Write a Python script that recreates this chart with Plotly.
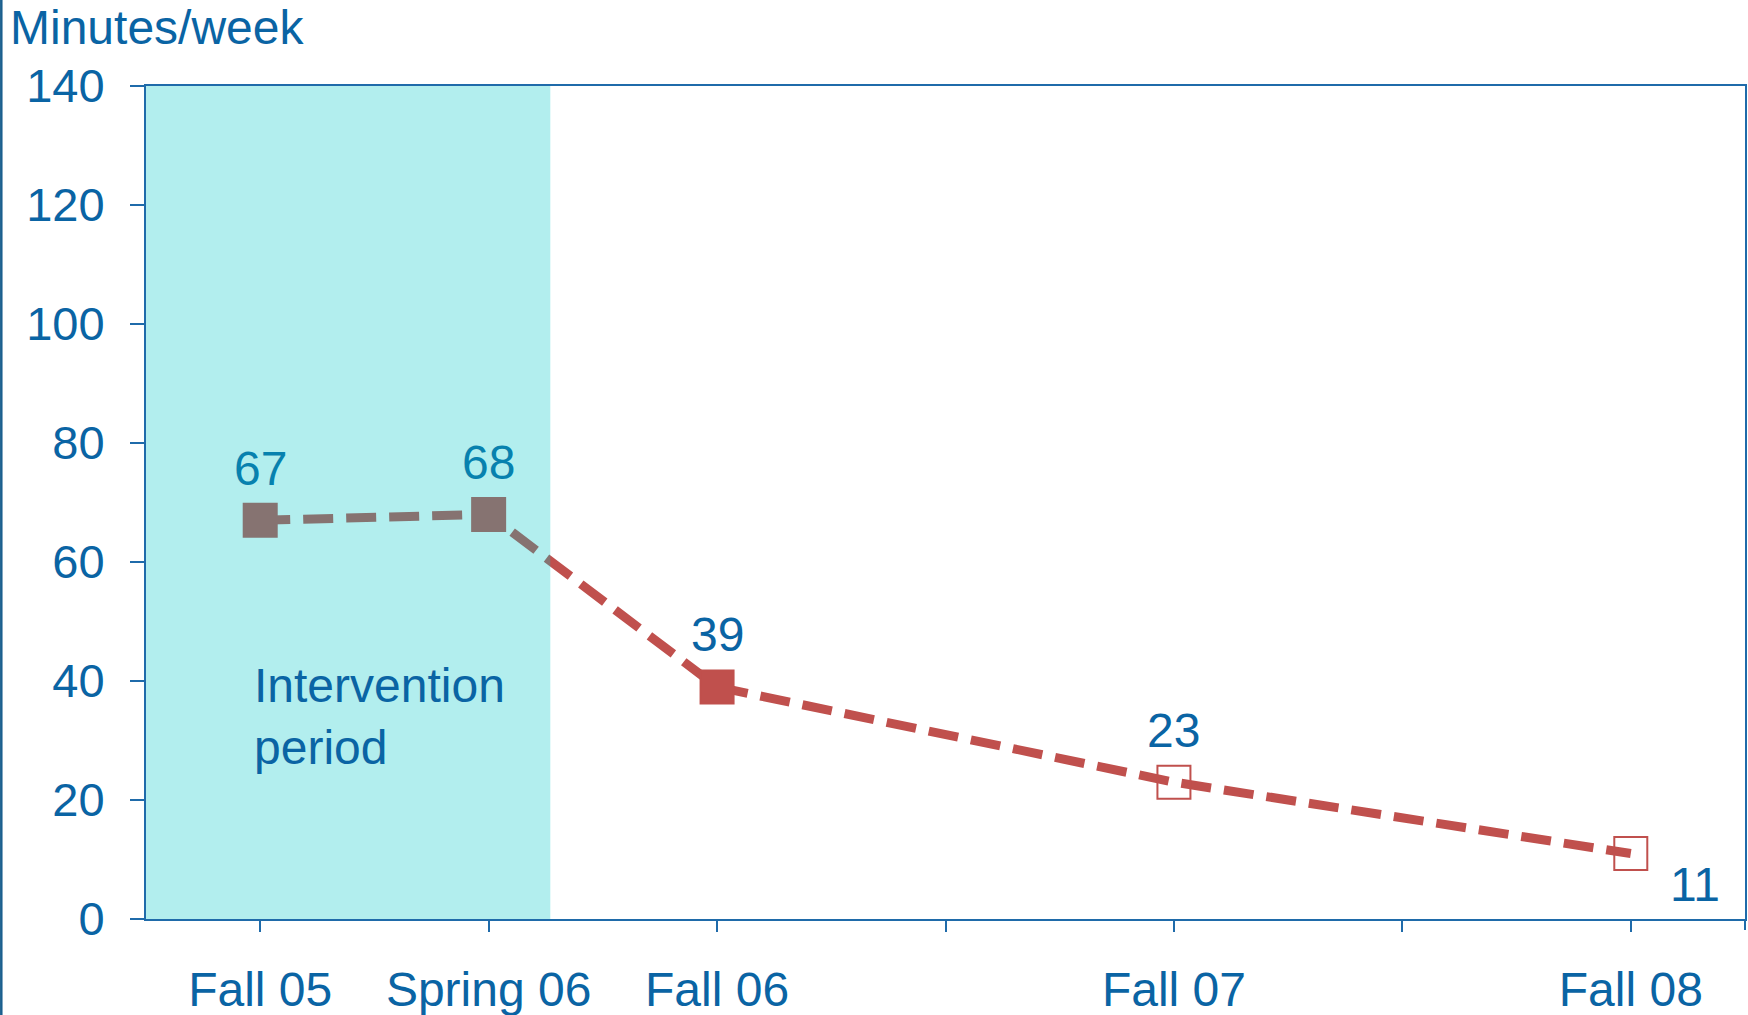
import plotly.graph_objects as go

# ---------------- data ----------------
semesters = ["Fall 05", "Spring 06", "Fall 06", "Spring 07", "Fall 07", "Spring 08", "Fall 08"]
tick_labels = ["Fall 05", "Spring 06", "Fall 06", "", "Fall 07", "", "Fall 08"]
data_semesters = ["Fall 05", "Spring 06", "Fall 06", "Fall 07", "Fall 08"]
minutes = [67, 68, 39, 23, 11]
marker_symbols = ["square", "square", "square", "square-open", "square-open"]
y_ticks = [0, 20, 40, 60, 80, 100, 120, 140]
intervention_end = 1.27  # in semester index units (between Spring 06 and Fall 06)

# ---------------- style ----------------
W, H = 1748, 1015
ML, MR, MT, MB = 146, 3, 86, 96
PW, PH = W - ML - MR, H - MT - MB
FONT = "Liberation Sans, Arial, sans-serif"
TEXT = "#0A64A4"
AXIS = "#1F6BAA"
RED = "#C0504D"
OVERLAY = (0, 198, 198)
OVERLAY_A = 0.30


def blend(hex_color, rgb, a):
    h = hex_color.lstrip("#")
    c = [int(h[i:i + 2], 16) for i in (0, 2, 4)]
    m = [round(c[i] * (1 - a) + rgb[i] * a) for i in range(3)]
    return "rgb(%d,%d,%d)" % tuple(m)


fig = go.Figure()

fig.add_trace(go.Scatter(
    x=data_semesters,
    y=minutes,
    mode="lines+markers",
    line=dict(color=RED, width=9, dash="30px,13px"),
    marker=dict(symbol=marker_symbols, size=33, color=RED,
                line=dict(color=RED, width=2)),
    showlegend=False,
    hoverinfo="skip",
))

# intervention shading (semi-transparent, above data)
fig.add_shape(type="rect", xref="x", yref="y",
              x0=-0.5, x1=intervention_end, y0=0, y1=max(y_ticks),
              fillcolor="rgba(%d,%d,%d,%.2f)" % (*OVERLAY, OVERLAY_A),
              line=dict(width=0), layer="above")

# data labels
for s, v in zip(data_semesters, minutes):
    idx = semesters.index(s)
    inside = idx < intervention_end
    color = blend(TEXT, OVERLAY, OVERLAY_A) if inside else TEXT
    if s == data_semesters[-1]:
        xs, ys = 64, -31
    else:
        xs, ys = 0, 52
    fig.add_annotation(x=s, y=v, text=str(v), showarrow=False,
                       xshift=xs, yshift=ys, xanchor="center", yanchor="middle",
                       font=dict(family=FONT, size=48, color=color))

fig.add_annotation(x=semesters[0], y=34, text="Intervention<br>period",
                   showarrow=False, xanchor="left", yanchor="middle", align="left",
                   xshift=-8, font=dict(family=FONT, size=48, color=TEXT))

# y axis unit label
fig.add_annotation(xref="paper", yref="paper", x=(8 - ML) / PW, y=1 + (MT - 28) / PH,
                   text="Minutes/week", showarrow=False, xanchor="left", yanchor="middle",
                   font=dict(family=FONT, size=48, color=TEXT))

# tick at right edge of x axis
fig.add_shape(type="line", xref="paper", yref="paper", x0=1, x1=1, y0=0, y1=-11 / PH,
              line=dict(color=AXIS, width=2))
# left image border
fig.add_shape(type="line", xref="paper", yref="paper",
              x0=(1.3 - ML) / PW, x1=(1.3 - ML) / PW, y0=-MB / PH, y1=1 + MT / PH,
              line=dict(color="#1A5F8E", width=2.5))

fig.update_layout(
    width=W, height=H, autosize=False,
    margin=dict(l=ML, r=MR, t=MT, b=MB, pad=0, autoexpand=False),
    paper_bgcolor="white", plot_bgcolor="white",
    font=dict(family=FONT, color=TEXT),
    xaxis=dict(type="category", categoryorder="array", categoryarray=semesters,
               range=[-0.5, len(semesters) - 0.5],
               tickmode="array", tickvals=semesters, ticktext=tick_labels,
               ticks="outside", ticklen=11, tickwidth=2, tickcolor=AXIS,
               showline=True, linecolor=AXIS, linewidth=2, mirror=True,
               showgrid=False, zeroline=False, automargin=False,
               tickfont=dict(family=FONT, size=48, color=TEXT),
               ticklabelstandoff=16),
    yaxis=dict(range=[0, max(y_ticks)], tickmode="array", tickvals=y_ticks,
               ticks="outside", ticklen=14, tickwidth=2, tickcolor=AXIS,
               showline=True, linecolor=AXIS, linewidth=2, mirror=True,
               showgrid=False, zeroline=False, automargin=False,
               tickfont=dict(family=FONT, size=47, color=TEXT),
               ticklabelstandoff=16),
)

fig.write_html("out.html")
